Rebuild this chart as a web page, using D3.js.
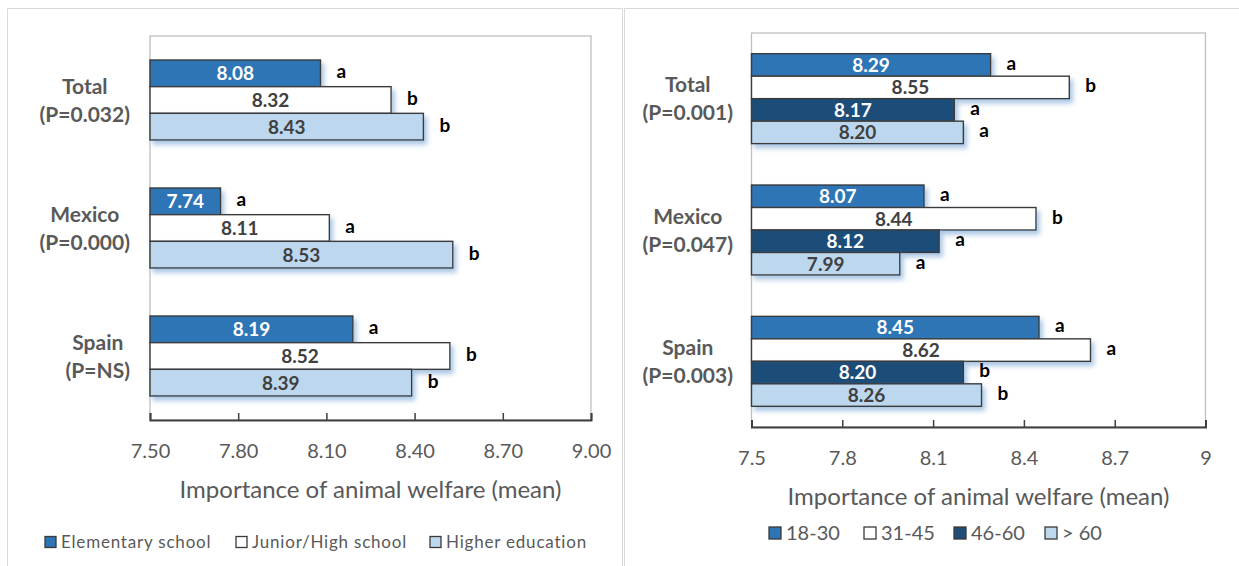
<!DOCTYPE html>
<html><head><meta charset="utf-8">
<script src="https://cdn.jsdelivr.net/npm/d3@7"></script>
<style>
html,body{margin:0;padding:0;background:#fff;}
svg{display:block;font-family:Lato,"Open Sans",sans-serif;}
</style></head>
<body>
<svg id="chart" width="1239" height="566"></svg>
<script>
// ---------- data ----------
const categories = ["Total", "Mexico", "Spain"];
const eduPLabels = ["(P=0.032)", "(P=0.000)", "(P=NS)"];
const eduSeries = ["Elementary school", "Junior/High school", "Higher education"];
const eduValues = [
  [8.08, 8.32, 8.43],
  [7.74, 8.11, 8.53],
  [8.19, 8.52, 8.39]
];
const eduLetters = [
  ["a", "b", "b"],
  ["a", "a", "b"],
  ["a", "b", "b"]
];
const eduTicks = [7.5, 7.8, 8.1, 8.4, 8.7, 9.0];
const eduTickLabels = ["7.50", "7.80", "8.10", "8.40", "8.70", "9.00"];

const agePLabels = ["(P=0.001)", "(P=0.047)", "(P=0.003)"];
const ageSeries = ["18-30", "31-45", "46-60", "> 60"];
const ageValues = [
  [8.29, 8.55, 8.17, 8.20],
  [8.07, 8.44, 8.12, 7.99],
  [8.45, 8.62, 8.20, 8.26]
];
const ageLetters = [
  ["a", "b", "a", "a"],
  ["a", "b", "a", "a"],
  ["a", "a", "b", "b"]
];
const ageTicks = [7.5, 7.8, 8.1, 8.4, 8.7, 9.0];
const ageTickLabels = ["7.5", "7.8", "8.1", "8.4", "8.7", "9"];

const axisTitle = "Importance of animal welfare (mean)";

// ---------- styles ----------
const C_MID = "#2e75b6", C_DARK = "#1f4e79", C_LIGHT = "#bdd7ee", C_WHITE = "#ffffff";
const TXT = "#595959";

const svg = d3.select("#chart");
const defs = svg.append("defs");
const f = defs.append("filter").attr("id", "shadow").attr("x", "-10%").attr("y", "-30%").attr("width", "130%").attr("height", "180%");
f.append("feDropShadow").attr("dx", 3).attr("dy", 4).attr("stdDeviation", 2.5)
  .attr("flood-color", "#8fb4dc").attr("flood-opacity", 0.75);

// outer frames
svg.append("path").attr("d", "M7.5,566 V8.5 H622.5 V566").attr("fill", "none").attr("stroke", "#d9d9d9").attr("stroke-width", 1);
svg.append("path").attr("d", "M624.5,566 V8.5 H1239").attr("fill", "none").attr("stroke", "#d9d9d9").attr("stroke-width", 1);

function panel(o) {
  const g = svg.append("g");
  const x = d3.scaleLinear().domain([7.5, 9.0]).range([o.x0, o.x1]);
  const y = d3.scaleBand().domain(categories).range([o.y0, o.y1])
    .paddingInner(o.pad).paddingOuter(o.pad / 2);
  const ys = d3.scaleBand().domain(o.series).range([0, y.bandwidth()]);

  // plot frame
  g.append("rect").attr("x", o.x0).attr("y", o.y0).attr("width", o.x1 - o.x0).attr("height", o.y1 - o.y0)
    .attr("fill", "none").attr("stroke", "#bfbfbf").attr("stroke-width", 1.3);

  // bars
  categories.forEach((cat, ci) => {
    const gg = g.append("g").attr("transform", `translate(0,${y(cat)})`);
    const data = o.series.map((s, si) => ({ s, si, v: o.values[ci][si], l: o.letters[ci][si] }));
    gg.selectAll("rect.bar").data(data).join("rect")
      .attr("x", x(7.5)).attr("y", d => ys(d.s))
      .attr("width", d => x(d.v) - x(7.5)).attr("height", ys.bandwidth())
      .attr("fill", d => o.colors[d.si])
      .attr("stroke", "#3a3a3a").attr("stroke-width", 1.4)
      .attr("filter", "url(#shadow)");
    gg.selectAll("text.val").data(data).join("text")
      .attr("x", d => (x(d.v) + x(7.5)) / 2).attr("y", d => ys(d.s) + ys.bandwidth() / 2)
      .attr("dy", "0.36em").attr("text-anchor", "middle")
      .attr("font-size", o.valSize).attr("font-weight", 700)
      .attr("fill", d => (o.colors[d.si] === C_MID || o.colors[d.si] === C_DARK) ? "#ffffff" : "#404040")
      .text(d => d.v.toFixed(2));
    gg.selectAll("text.let").data(data).join("text")
      .attr("x", d => x(d.v) + o.letDx).attr("y", d => ys(d.s) + ys.bandwidth() / 2 - 2)
      .attr("dy", "0.36em").attr("text-anchor", "start")
      .attr("font-size", 19).attr("font-weight", 700).attr("fill", "#000")
      .text(d => d.l);
  });

  // category labels
  categories.forEach((cat, ci) => {
    const cy = y(cat) + y.bandwidth() / 2;
    const lg = g.append("g");
    const t1 = lg.append("text").attr("y", cy - 14).attr("dy", "0.36em").text(cat);
    const t2 = lg.append("text").attr("y", cy + 14).attr("dy", "0.36em").text(o.pLabels[ci]);
    lg.selectAll("text").attr("font-size", 21).attr("font-weight", 700).attr("fill", TXT).attr("text-anchor", "middle");
    const w = Math.max(t1.node().getComputedTextLength(), t2.node().getComputedTextLength());
    lg.selectAll("text").attr("x", o.labelRight - w / 2);
  });

  // x axis
  const ax = g.append("g").attr("transform", `translate(0,${o.y1})`)
    .call(d3.axisBottom(x).tickValues(o.ticks).tickSize(-7).tickPadding(o.tickPad)
      .tickFormat((d, i) => o.tickLabels[i]));
  ax.select(".domain").attr("stroke", "#404040").attr("stroke-width", 2);
  ax.selectAll(".tick line").attr("stroke", "#404040").attr("stroke-width", 1.5);
  ax.selectAll(".tick text").attr("font-size", o.tickSize).attr("fill", TXT).attr("font-family", "Lato,sans-serif");

  g.append("text").attr("x", (o.x0 + o.x1) / 2).attr("y", o.titleY)
    .attr("text-anchor", "middle").attr("font-size", o.titleSize).attr("fill", TXT).text(axisTitle);

  // legend
  const leg = g.append("g");
  o.series.forEach((s, si) => {
    const lx = o.legX[si];
    leg.append("rect").attr("x", lx).attr("y", o.legY - o.legBox / 2).attr("width", o.legBox).attr("height", o.legBox)
      .attr("fill", o.colors[si]).attr("stroke", "#3a3a3a").attr("stroke-width", 1.3);
    leg.append("text").attr("x", lx + o.legBox + 5).attr("y", o.legY).attr("dy", "0.35em")
      .attr("font-size", o.legSize).attr("fill", TXT).attr("letter-spacing", o.legSpacing).text(s);
  });
}

panel({
  x0: 150, x1: 591, y0: 36, y1: 420, pad: 0.375,
  series: eduSeries, values: eduValues, letters: eduLetters, pLabels: eduPLabels,
  colors: [C_MID, C_WHITE, C_LIGHT],
  ticks: eduTicks, tickLabels: eduTickLabels, tickPad: 24, tickSize: 20,
  valSize: 19, letDx: 16, labelRight: 130,
  titleY: 498, titleSize: 24,
  legX: [45, 236, 430], legY: 542, legBox: 11, legSize: 17, legSpacing: 0.8
});

panel({
  x0: 751.5, x1: 1205.5, y0: 33, y1: 427, pad: 0.315,
  series: ageSeries, values: ageValues, letters: ageLetters, pLabels: agePLabels,
  colors: [C_MID, C_WHITE, C_DARK, C_LIGHT],
  ticks: ageTicks, tickLabels: ageTickLabels, tickPad: 24, tickSize: 20,
  valSize: 19, letDx: 16, labelRight: 733,
  titleY: 505, titleSize: 24,
  legX: [769, 864, 954, 1045], legY: 533, legBox: 12, legSize: 20, legSpacing: 0
});
</script>
</body></html>
